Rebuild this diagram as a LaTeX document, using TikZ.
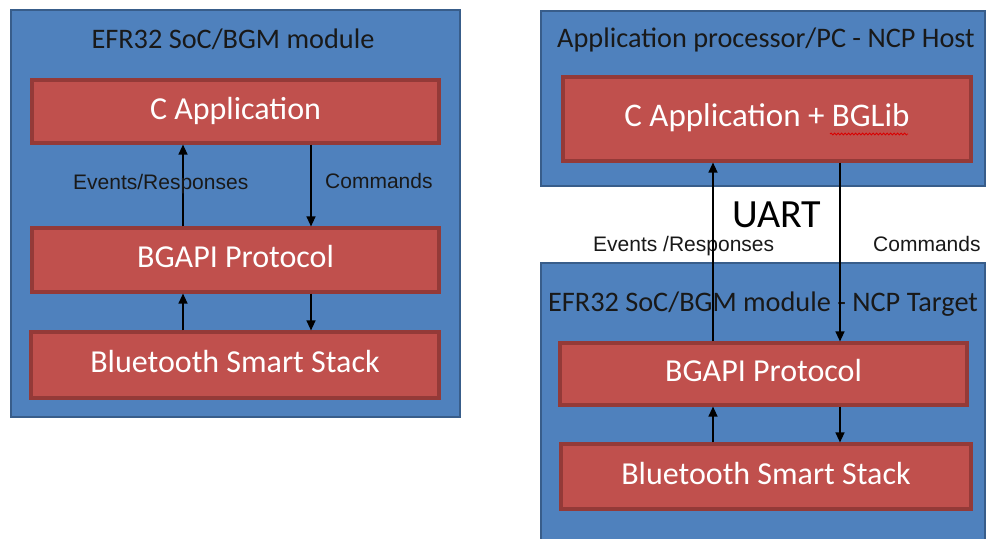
\documentclass[tikz,border=0pt]{standalone}
\usepackage{fontspec}
\setmainfont{Carlito}
\newfontfamily\arialf{Liberation Sans}
\usetikzlibrary{arrows.meta,decorations.pathmorphing}
\definecolor{boxblue}{HTML}{4F81BD}
\definecolor{boxblueline}{HTML}{385D8A}
\definecolor{boxred}{HTML}{C0504D}
\definecolor{boxredline}{HTML}{943A38}
\tikzset{
  outerbox/.style={draw=boxblueline, fill=boxblue, line width=2.5pt, inner sep=0pt},
  layerbox/.style={draw=boxredline, fill=boxred, line width=3.2pt, inner sep=0pt,
    text=white, font=\fontsize{32}{36}\selectfont, text height=21pt, text depth=6pt},
  titletext/.style={anchor=base, font=\fontsize{28.3}{30}\selectfont, text=black!90, inner sep=0pt},
  labeltext/.style={anchor=base west, font=\arialf\fontsize{21}{24}\selectfont, text=black!90, inner sep=0pt},
  arr/.style={line width=1.3pt, -{Triangle[length=10pt,width=9pt]}}
}
\begin{document}
\begin{tikzpicture}[x=1pt,y=-1pt]
\useasboundingbox (0,0) rectangle (987,538);
\fill[white] (0,0) rectangle (987,538);

% Left: SoC
\node[outerbox, minimum width=449pt, minimum height=407pt] (outerL) at (235.5,213.5) {};
\node[titletext] (titleL) at (233,48) {EFR32 SoC/BGM module};
\node[layerbox, minimum width=407pt, minimum height=63pt] (cappL) at (235.5,111.5) {C Application};
\node[layerbox, minimum width=407pt, minimum height=64pt] (bgapiL) at (235.5,260) {BGAPI Protocol};
\node[layerbox, minimum width=408pt, minimum height=66pt] (btL) at (235,365) {Bluetooth Smart Stack};
\coordinate (xLup) at (183,0);
\coordinate (xLdn) at (311,0);
\draw[arr] (bgapiL.north -| xLup) -- (cappL.south -| xLup);
\draw[arr] (cappL.south -| xLdn) -- (bgapiL.north -| xLdn);
\draw[arr] (btL.north -| xLup) -- (bgapiL.south -| xLup);
\draw[arr] (bgapiL.south -| xLdn) -- (btL.north -| xLdn);
\node[labeltext] (evL) at (73,189) {Events/Responses};
\node[labeltext] (cmdL) at (325,188) {Commands};

% Right: NCP host
\node[outerbox, minimum width=444pt, minimum height=175pt] (hostR) at (763,98.5) {};
\node[titletext] (titleH) at (766,47) {Application processor/PC - NCP Host};
\node[layerbox, minimum width=408pt, minimum height=84pt, font=\fontsize{33}{36}\selectfont] (cappR) at (767,119) {C Application + BGLib};
\draw[red!85!black, line width=0.8pt, decorate, decoration={snake, amplitude=1pt, segment length=3.5pt}] (830,134) -- (908,134);

% Right: NCP target
\node[outerbox, minimum width=444pt, minimum height=290pt] (targR) at (763,408) {};
\node[titletext] (titleT) at (763,311) {EFR32 SoC/BGM module - NCP Target};
\node[layerbox, minimum width=407pt, minimum height=62pt] (bgapiR) at (763.5,374) {BGAPI Protocol};
\node[layerbox, minimum width=410pt, minimum height=65pt] (btR) at (766,476.5) {Bluetooth Smart Stack};

\node[anchor=base, font=\fontsize{40}{44}\selectfont, inner sep=0pt] (uart) at (777,227) {UART};
\node[labeltext] (evR) at (593,251) {Events /Responses};
\node[labeltext] (cmdR) at (873,251) {Commands};

\coordinate (xRup) at (713,0);
\coordinate (xRdn) at (840,0);
\draw[arr] (bgapiR.north -| xRup) -- (cappR.south -| xRup);
\draw[arr] (cappR.south -| xRdn) -- (bgapiR.north -| xRdn);
\draw[arr] (btR.north -| xRup) -- (bgapiR.south -| xRup);
\draw[arr] (bgapiR.south -| xRdn) -- (btR.north -| xRdn);
\end{tikzpicture}
\end{document}
